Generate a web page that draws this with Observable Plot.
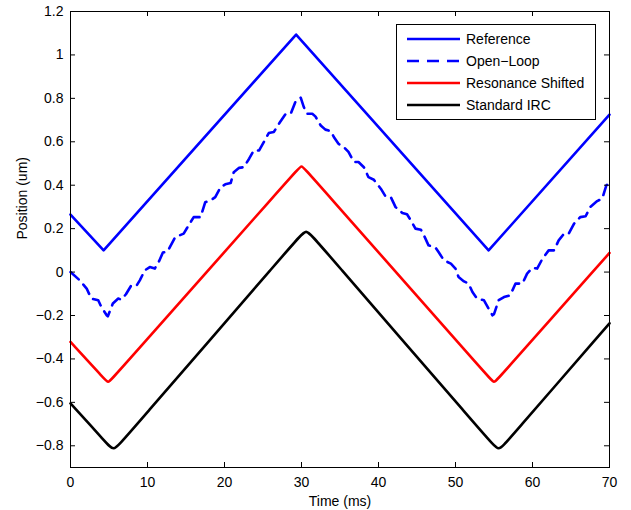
<!DOCTYPE html>
<html><head><meta charset="utf-8">
<script src="https://cdn.jsdelivr.net/npm/d3@7"></script>
<script src="https://cdn.jsdelivr.net/npm/@observablehq/plot@0.6"></script>
<style>body{margin:0;background:#fff}</style>
</head><body><div id="chart"></div>
<script>
// ---- data ----
const xTicks = [0, 10, 20, 30, 40, 50, 60, 70];
const xTickLabels = ["0", "10", "20", "30", "40", "50", "60", "70"];
const yTicks = [-0.8, -0.6, -0.4, -0.2, 0, 0.2, 0.4, 0.6, 0.8, 1, 1.2];
const yTickLabels = ["\u22120.8", "\u22120.6", "\u22120.4", "\u22120.2", "0", "0.2", "0.4", "0.6", "0.8", "1", "1.2"];
const seriesNames = ["Reference", "Open\u2212Loop", "Resonance Shifted", "Standard IRC"];

const refT = [0, 4.3, 29.3, 54.3, 70];
const refY = [0.265, 0.1, 1.094, 0.1, 0.725];

const openT = [0, 1.2, 2.1, 2.7, 3.6, 4.0, 4.7, 4.85, 5.5, 6.2, 6.6, 7.2, 7.9, 8.6, 9.0, 9.65, 10.3, 10.95, 11.5, 12.0, 12.6,
  13.6, 14.7, 15.2, 16.0, 16.9, 17.5, 18.2, 18.8, 19.5, 20.1, 20.8, 21.2, 21.9, 22.5, 23.2, 23.8, 24.5, 25.1, 25.75, 26.4,
  27.2, 27.9, 28.6, 29.2, 29.9, 30.3, 30.7, 31.4, 31.8, 32.5, 33.1, 33.8, 34.2, 34.8, 35.5, 36.1, 36.8, 37.4, 38.1, 38.7,
  39.4, 40.3, 40.9, 41.6, 42.2, 43.1, 43.7, 44.2, 44.8, 45.5, 45.9, 46.5, 47.4, 47.8, 48.5, 49.4, 50.0, 50.4, 51.1, 51.7,
  52.2, 52.8, 53.7, 54.3, 54.8, 55.0, 55.6, 56.3, 57.1, 57.8, 58.7, 59.3, 60.0, 60.6, 61.3, 62.1, 62.8, 63.4, 64.1, 64.7,
  65.4, 66.2, 66.9, 67.5, 68.4, 69.05, 69.6, 70];
const openY = [0, -0.038, -0.076, -0.122, -0.13, -0.16, -0.199, -0.204, -0.145, -0.122, -0.127, -0.102, -0.061, -0.061, -0.038, 0.008, 0.023, 0.016, 0.05, 0.09, 0.095,
  0.161, 0.177, 0.207, 0.253, 0.253, 0.322, 0.33, 0.345, 0.391, 0.404, 0.41, 0.46, 0.48, 0.483, 0.522, 0.56, 0.56, 0.598, 0.64, 0.645,
  0.69, 0.726, 0.729, 0.783, 0.803, 0.76, 0.729, 0.729, 0.717, 0.675, 0.656, 0.649, 0.622, 0.591, 0.576, 0.553, 0.507, 0.507, 0.483, 0.437,
  0.425, 0.384, 0.349, 0.345, 0.3, 0.272, 0.266, 0.238, 0.2, 0.195, 0.169, 0.123, 0.113, 0.092, 0.054, 0.039, 0.016, -0.023, -0.043, -0.053,
  -0.092, -0.122, -0.13, -0.168, -0.199, -0.194, -0.13, -0.115, -0.107, -0.053, -0.053, -0.007, 0.02, 0.016, 0.062, 0.1, 0.1, 0.146, 0.177, 0.177,
  0.223, 0.253, 0.257, 0.3, 0.327, 0.338, 0.4, 0.41];

// control points (corners are smoothed by the spline)
const redT = [0, 4.4, 4.9, 5.4, 29.5, 30.0, 30.5, 54.5, 55.0, 55.5, 70];
const redY = [-0.322, -0.492, -0.512, -0.492, 0.473, 0.493, 0.473, -0.492, -0.512, -0.492, 0.088];

const ircT = [0, 4.6, 5.6, 6.6, 29.6, 30.6, 31.6, 54.6, 55.6, 56.6, 70];
const ircY = [-0.605, -0.784, -0.825, -0.784, 0.158, 0.199, 0.158, -0.784, -0.825, -0.784, -0.236];

// ---- build tables ----
const toRows = (T, Y) => T.map((t, i) => ({t, v: Y[i]}));
const refData = toRows(refT, refY);
const openData = toRows(openT, openY);
const redData = toRows(redT, redY);
const ircData = toRows(ircT, ircY);

const W = 631, H = 510, mL = 70, mR = 22, mT = 11, mB = 43;
const pw = W - mL - mR, ph = H - mT - mB;
const font = "'Liberation Sans', Arial, Helvetica, sans-serif";
const lw = 2.6;
const dash = "11,7";

const plot = Plot.plot({
  width: W, height: H,
  marginLeft: mL, marginRight: mR, marginTop: mT, marginBottom: mB,
  style: {fontFamily: font, fontSize: "14px", background: "white", color: "black"},
  x: {domain: [0, 70]},
  y: {domain: [-0.9, 1.2]},
  marks: [
    Plot.line(refData, {x: "t", y: "v", stroke: "#0000ff", strokeWidth: lw, strokeLinejoin: "round"}),
    Plot.line(openData, {x: "t", y: "v", stroke: "#0000ff", strokeWidth: lw, strokeDasharray: dash, strokeLinejoin: "round"}),
    Plot.line(redData, {x: "t", y: "v", curve: "basis", stroke: "#ff0000", strokeWidth: lw, strokeLinejoin: "round"}),
    Plot.line(ircData, {x: "t", y: "v", curve: "basis", stroke: "#000000", strokeWidth: lw, strokeLinejoin: "round"}),
    Plot.frame({stroke: "black", strokeWidth: 1}),
    Plot.tickX(xTicks, {x: d => d, insetTop: ph - 5, stroke: "black"}),
    Plot.tickX(xTicks, {x: d => d, insetBottom: ph - 5, stroke: "black"}),
    Plot.tickY(yTicks, {y: d => d, insetRight: pw - 5, stroke: "black"}),
    Plot.tickY(yTicks, {y: d => d, insetLeft: pw - 5, stroke: "black"}),
    Plot.axisX(xTicks, {tickSize: 0, tickPadding: 10, label: null, fontSize: 14,
      tickFormat: d => xTickLabels[xTicks.indexOf(d)]}),
    Plot.axisY(yTicks, {tickSize: 0, tickPadding: 7, label: null, fontSize: 14,
      tickFormat: d => yTickLabels[yTicks.indexOf(d)]}),
    Plot.text(["Time (ms)"], {text: d => d, frameAnchor: "bottom", dy: 38, fontSize: 14}),
    Plot.text(["Position (um)"], {text: d => d, frameAnchor: "left", dx: -48, rotate: -90, fontSize: 14})
  ]
});

// ---- legend (inside the axes, upper right) ----
const svg = d3.select(plot);
const lg = svg.append("g").attr("font-family", font).attr("font-size", 14).attr("text-anchor", "start");
lg.append("rect").attr("x", 396.5).attr("y", 24.5).attr("width", 199).attr("height", 95)
  .attr("fill", "white").attr("stroke", "black").attr("stroke-width", 1);
const legStyles = [
  {stroke: "#0000ff", dash: null},
  {stroke: "#0000ff", dash: "12,8"},
  {stroke: "#ff0000", dash: null},
  {stroke: "#000000", dash: null}
];
seriesNames.forEach((name, i) => {
  const y = 39 + i * 22;
  const ln = lg.append("line").attr("x1", 407).attr("x2", 460).attr("y1", y).attr("y2", y)
    .attr("stroke", legStyles[i].stroke).attr("stroke-width", lw);
  if (legStyles[i].dash) ln.attr("stroke-dasharray", legStyles[i].dash);
  lg.append("text").attr("x", 466).attr("y", y).attr("dy", "0.35em").attr("fill", "black")
    .attr("text-anchor", "start").text(name);
});

document.getElementById("chart").appendChild(plot);
</script>
</body></html>
